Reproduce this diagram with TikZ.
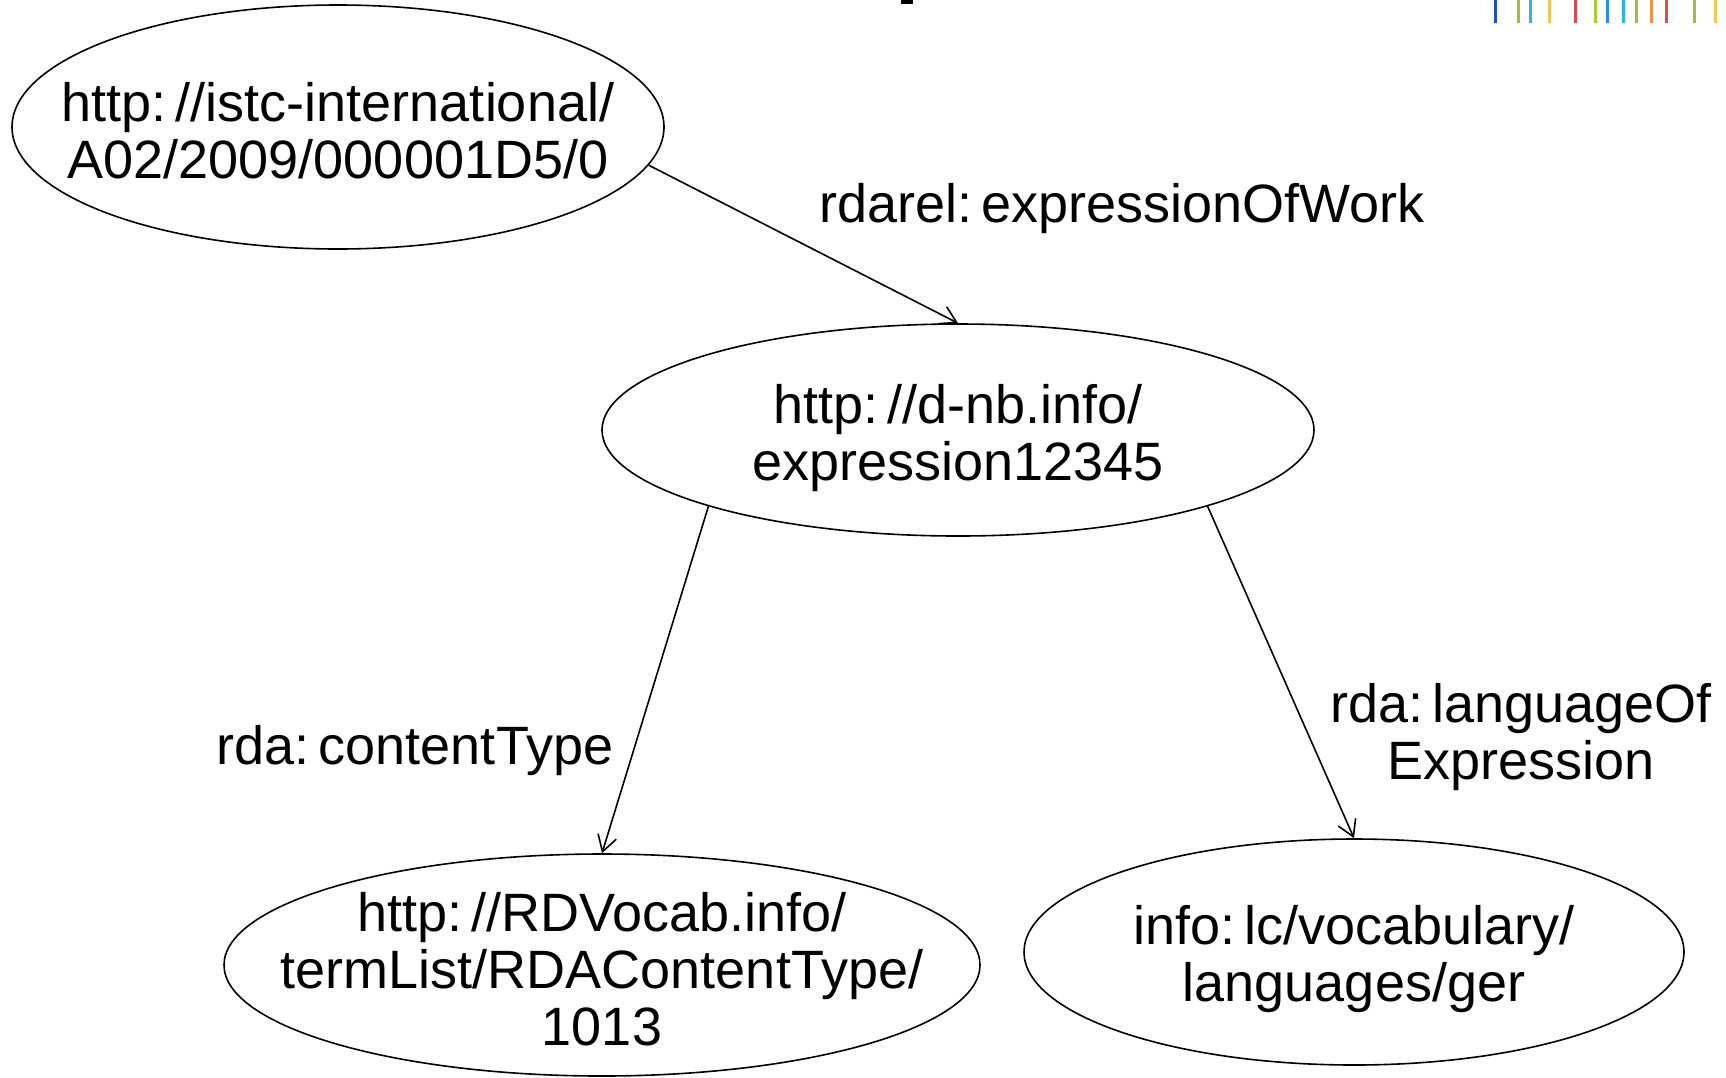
\documentclass[tikz,border=0pt]{standalone}
\usepackage{fontspec}
\setmainfont{Liberation Sans}
\usetikzlibrary{shapes.geometric,arrows.meta}
\definecolor{bardark}{HTML}{1E4FC2}
\definecolor{barolive}{HTML}{A3BE3A}
\definecolor{barsky}{HTML}{2CB2EA}
\definecolor{baryellow}{HTML}{F2C84B}
\definecolor{barred}{HTML}{DE4A4A}
\definecolor{bargreen}{HTML}{A6D02E}
\definecolor{barblue}{HTML}{2A8FE0}
\definecolor{barorange}{HTML}{F38E44}
\begin{document}
\begin{tikzpicture}[x=1pt,y=-1pt,>={Straight Barb[length=16pt,width=19pt]},
uri/.style={draw,ellipse,line width=1.6pt,inner sep=0pt},
rel/.style={align=center,inner sep=0pt,font=\fontsize{54}{57}\selectfont}]
\useasboundingbox (0,0) rectangle (1726,1077);
\foreach \x/\c in {1495/bardark,1518/barolive,1530/barsky,1549/baryellow,1575/barred,1595/bargreen,1607/barblue,1623/barsky,1636/barolive,1651/barorange,1666/barred,1694/barolive,1715/baryellow}
\fill[\c] (\x-1.5,0) rectangle (\x+1.5,23);
\fill (901,0) rectangle (913,4);
\node[uri,minimum width=652pt,minimum height=244pt,label={[rel,yshift=-4pt]center:http:\,//istc-international/\\A02/2009/000001D5/0}] (work) at (338,127) {};
\node[uri,minimum width=712pt,minimum height=212pt,label={[rel,yshift=-8pt]center:http:\,//d-nb.info/\\expression12345}] (expr) at (958,430) {};
\node[uri,minimum width=756pt,minimum height=222pt,label={[rel,yshift=-4pt]center:http:\,//RDVocab.info/\\termList/RDAContentType/\\1013}] (ctype) at (602,965) {};
\node[uri,minimum width=660pt,minimum height=226pt,label={[rel,yshift=-7pt]center:info:\,lc/vocabulary/\\languages/ger}] (lang) at (1354,952) {};
\draw[->,line width=1.6pt] (work.-7) -- (expr.north);
\draw[->,line width=1.6pt] (expr.197) -- (ctype.north);
\draw[->,line width=1.6pt] (expr.-17) -- (lang.north);
\node[rel] (workrel) at (1122,209) {rdarel:\,expressionOfWork};
\node[rel] (ctyperel) at (415,751) {rda:\,contentType};
\node[rel] (langrel) at (1521,737) {rda:\,languageOf\\Expression};
\end{tikzpicture}
\end{document}
